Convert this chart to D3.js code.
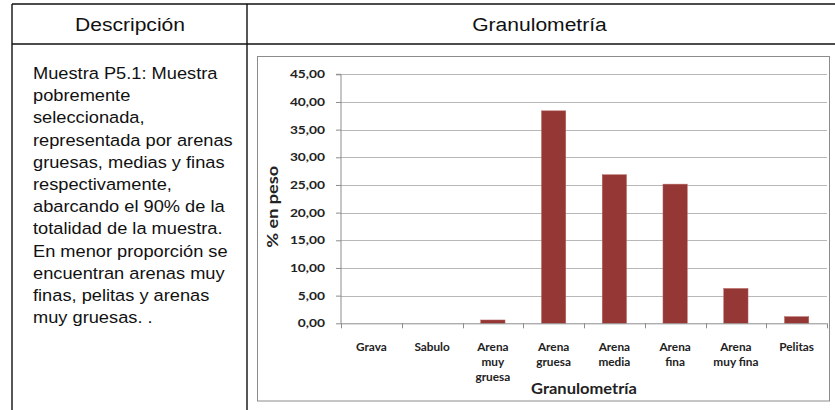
<!DOCTYPE html>
<html><head><meta charset="utf-8">
<script src="https://cdn.jsdelivr.net/npm/d3@7"></script>
<style>
html,body{margin:0;padding:0;background:#fff;}
svg{display:block;}
</style></head>
<body>
<svg id="c" width="835" height="410"></svg>
<script>
// ---- data ----
const categories = ["Grava","Sabulo","Arena muy gruesa","Arena gruesa","Arena media","Arena fina","Arena muy fina","Pelitas"];
const categoryLines = [["Grava"],["Sabulo"],["Arena","muy","gruesa"],["Arena","gruesa"],["Arena","media"],["Arena","fina"],["Arena","muy fina"],["Pelitas"]];
const values = [0, 0, 0.6, 38.4, 26.85, 25.15, 6.3, 1.2];
const yTicks = [0,5,10,15,20,25,30,35,40,45];
const headers = ["Descripción","Granulometría"];
const descriptionLines = [
  "Muestra P5.1: Muestra","pobremente","seleccionada,","representada por arenas",
  "gruesas, medias y finas","respectivamente,","abarcando el 90% de la",
  "totalidad de la muestra.","En menor proporción se","encuentran arenas muy",
  "finas, pelitas y arenas","muy gruesas. ."];
const yTitle = "% en peso";
const xTitle = "Granulometría";

const svg = d3.select("#c");
function stretch(sel, f){
  sel.each(function(){
    const w = this.getComputedTextLength();
    this.setAttribute("textLength", w*f);
    this.setAttribute("lengthAdjust","spacingAndGlyphs");
  });
}

// ---- table frame ----
const T = {left:12, mid:247, right:836, top:4, head:44, bottom:412};
const tbl = svg.append("g").attr("stroke","#111").attr("stroke-width",1.4).attr("fill","none");
tbl.append("line").attr("x1",T.left).attr("x2",T.right).attr("y1",T.top).attr("y2",T.top);
tbl.append("line").attr("x1",T.left).attr("x2",T.right).attr("y1",T.head).attr("y2",T.head);
tbl.append("line").attr("x1",T.left).attr("x2",T.left).attr("y1",T.top).attr("y2",T.bottom);
tbl.append("line").attr("x1",T.mid).attr("x2",T.mid).attr("y1",T.top).attr("y2",T.bottom);

const hdr = svg.selectAll("text.hdr").data(headers).join("text").attr("class","hdr")
  .attr("x",(d,i)=> i===0 ? (T.left+T.mid)/2 + 0.5 : (T.mid+T.right)/2 - 2)
  .attr("y",31).attr("text-anchor","middle")
  .attr("font-family","'Liberation Sans', Arial, sans-serif").attr("font-size",18).attr("fill","#111")
  .text(d=>d);
stretch(hdr, 1.17);

const desc = svg.selectAll("text.desc").data(descriptionLines).join("text").attr("class","desc")
  .attr("x",33).attr("y",(d,i)=>79 + i*22.2)
  .attr("font-family","'Liberation Sans', Arial, sans-serif").attr("font-size",16.3).attr("fill","#111")
  .text(d=>d);
stretch(desc, 1.12);

// ---- chart box ----
svg.append("rect").attr("x",257.5).attr("y",56.5).attr("width",572).attr("height",344.5)
  .attr("fill","#fff").attr("stroke","#8c8c8c").attr("stroke-width",1);

const plot = {left:341, right:827, top:74.3, bottom:323.3};
const y = d3.scaleLinear().domain([0,45]).range([plot.bottom, plot.top]);
const x = d3.scaleBand().domain(categories).range([plot.left, plot.right]).paddingInner(0.6).paddingOuter(0.3);
const step = x.step();

// gridlines
svg.append("g").selectAll("line").data(yTicks.filter(d=>d>0)).join("line")
  .attr("x1",plot.left).attr("x2",plot.right)
  .attr("y1",d=>Math.round(y(d))+0.5).attr("y2",d=>Math.round(y(d))+0.5)
  .attr("stroke","#b8b8b8").attr("stroke-width",1.2);

// bars
svg.append("g").selectAll("rect").data(values).join("rect")
  .attr("x",(d,i)=>x(categories[i])).attr("width",x.bandwidth())
  .attr("y",d=>y(d)).attr("height",d=>plot.bottom - y(d))
  .attr("fill","#953735").attr("stroke","#b86866").attr("stroke-width",0.5);

// y axis
const yAxis = d3.axisLeft(y).tickValues(yTicks).tickSize(5).tickPadding(5)
  .tickFormat(d=>d3.format(".2f")(d).replace(".",","));
const ya = svg.append("g").attr("transform",`translate(${plot.left},0)`).call(yAxis);
ya.select(".domain").attr("stroke","#8c8c8c").attr("d",`M-5,${plot.top}H0V${plot.bottom}`);
ya.selectAll(".tick line").attr("stroke","#8c8c8c");
ya.selectAll(".tick text").attr("font-family","Lato, 'Open Sans', sans-serif").attr("font-weight","bold")
  .attr("font-size",11).attr("fill","#222").attr("x",-16);
stretch(ya.selectAll(".tick text"), 1.25);

// x axis line + ticks at boundaries
const xa = svg.append("g");
xa.append("line").attr("x1",plot.left).attr("x2",plot.right).attr("y1",plot.bottom+0.5).attr("y2",plot.bottom+0.5)
  .attr("stroke","#8c8c8c");
xa.selectAll("line.tk").data(d3.range(categories.length+1)).join("line").attr("class","tk")
  .attr("x1",i=>Math.round(plot.left + i*step)+0.5).attr("x2",i=>Math.round(plot.left + i*step)+0.5)
  .attr("y1",plot.bottom).attr("y2",plot.bottom+5).attr("stroke","#8c8c8c");

// x labels
const xl = svg.append("g").selectAll("text").data(categories).join("text")
  .attr("x",d=>x(d)+x.bandwidth()/2).attr("y",351).attr("text-anchor","middle")
  .attr("font-family","Lato, 'Open Sans', sans-serif").attr("font-weight","bold").attr("font-size",11.8).attr("fill","#222");
xl.each(function(d,i){
  d3.select(this).selectAll("tspan").data(categoryLines[i]).join("tspan")
    .attr("x",x(d)+x.bandwidth()/2).attr("dy",(t,j)=> j===0?0:15.2).text(t=>t);
});

// axis titles
svg.append("text").attr("transform",`translate(278,${(plot.top+plot.bottom)/2+8}) rotate(-90)`)
  .attr("text-anchor","middle").attr("font-family","Lato, 'Open Sans', sans-serif").attr("font-weight","bold")
  .attr("font-size",14.5).attr("fill","#222").text(yTitle)
  .call(s=>stretch(s,1.25));
svg.append("text").attr("x",(plot.left+plot.right)/2).attr("y",394).attr("text-anchor","middle")
  .attr("font-family","Lato, 'Open Sans', sans-serif").attr("font-weight","bold")
  .attr("font-size",15).attr("fill","#222").text(xTitle)
  .call(s=>stretch(s,1.1));
</script>
</body></html>
